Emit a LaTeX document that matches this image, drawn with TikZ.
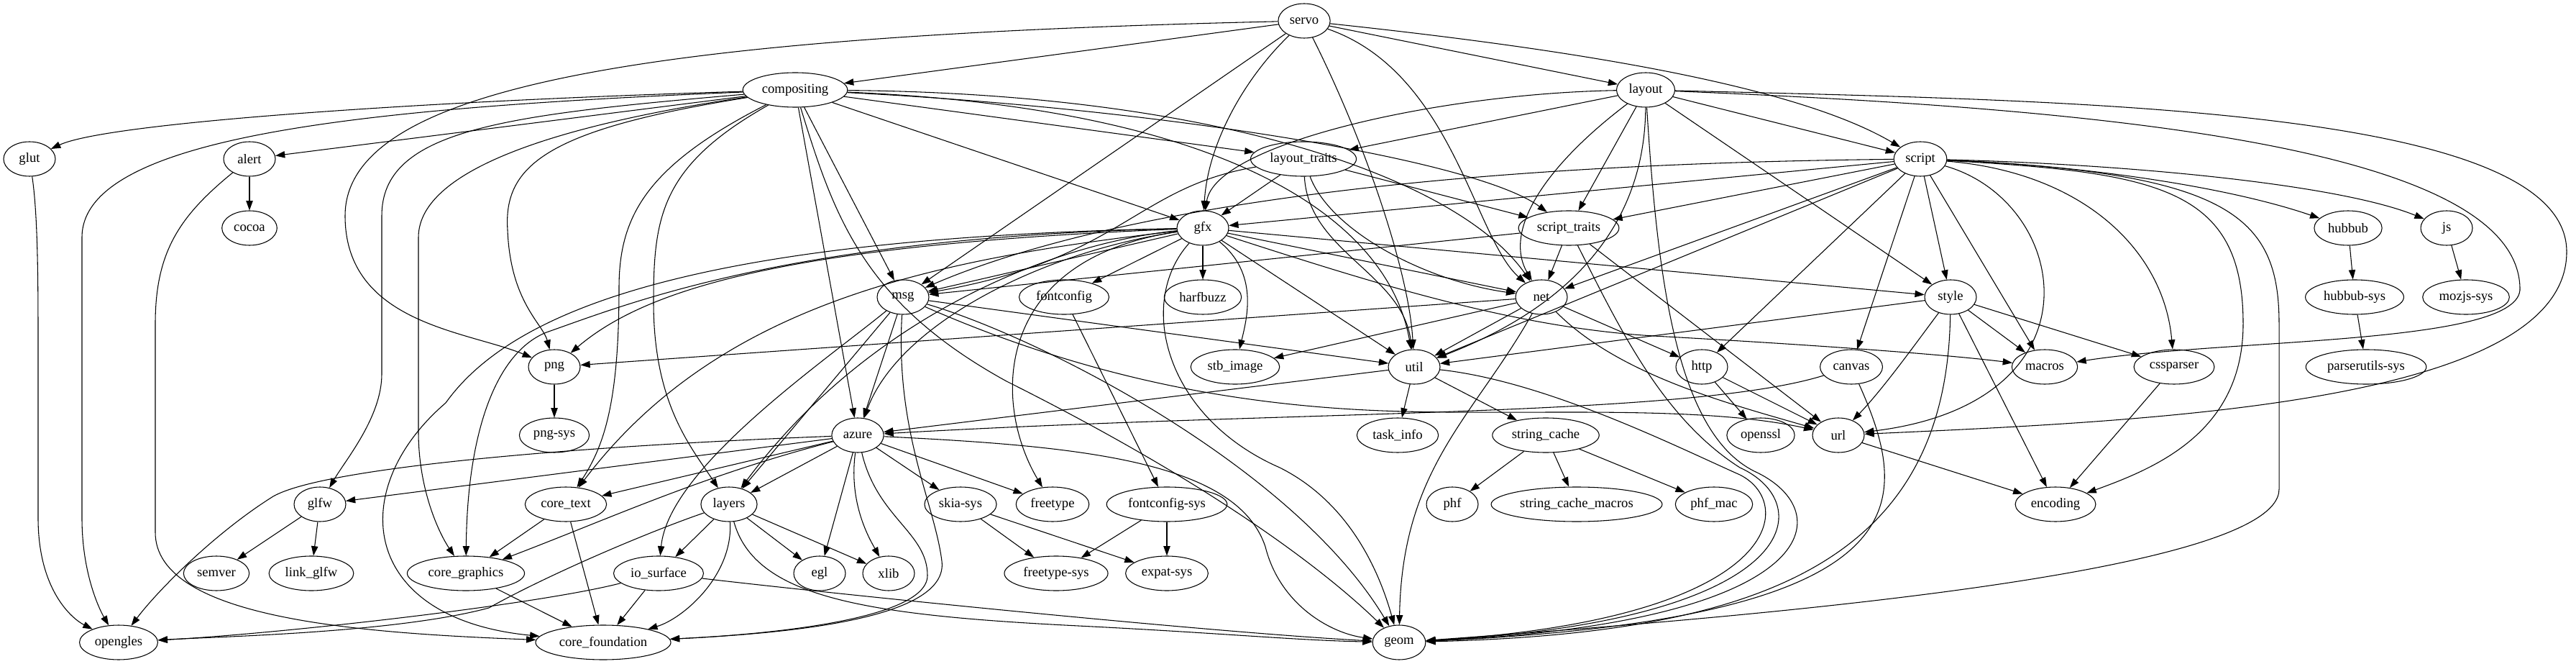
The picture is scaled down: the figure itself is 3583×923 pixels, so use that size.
\documentclass[tikz,border=0pt]{standalone}
\usepackage{fontspec}
\setmainfont{Liberation Serif}
\usepackage{tikz}
\usetikzlibrary{shapes.geometric,arrows.meta}
\tikzset{
  crate/.style={draw, ellipse, line width=0.8pt, minimum width=54pt, minimum height=36pt,
    inner xsep=4pt, inner ysep=0pt, font=\fontsize{14}{16}\selectfont},
  dep/.style={line width=0.8pt, -{Triangle[length=10pt,width=7pt]}}
}

\begin{document}
\begin{tikzpicture}[x=0.75pt,y=-0.75pt]
\useasboundingbox (0,0) rectangle (3583,923);

% crates, one row per rank
\node[crate] (servo) at (1814,29) {servo};
\node[crate] (compositing) at (1106,125) {compositing};
\node[crate] (layout) at (2289,125) {layout};
\node[crate] (glut) at (41,221) {glut};
\node[crate] (alert) at (347,221) {alert};
\node[crate] (layouttraits) at (1813,221) {layout\_traits};
\node[crate] (script) at (2671,221) {script};
\node[crate] (cocoa) at (347,317) {cocoa};
\node[crate] (gfx) at (1673,317) {gfx};
\node[crate] (scripttraits) at (2182,317) {script\_traits};
\node[crate] (hubbub) at (3266,317) {hubbub};
\node[crate] (js) at (3403,317) {js};
\node[crate] (msg) at (1256,413) {msg};
\node[crate] (fontconfig) at (1480,413) {fontconfig};
\node[crate] (harfbuzz) at (1673,413) {harfbuzz};
\node[crate] (net) at (2144,413) {net};
\node[crate] (style) at (2713,413) {style};
\node[crate] (hubbubsys) at (3275,413) {hubbub-sys};
\node[crate] (mozjssys) at (3430,413) {mozjs-sys};
\node[crate] (png) at (771,510) {png};
\node[crate] (stbimage) at (1718,510) {stb\_image};
\node[crate] (util) at (1967,510) {util};
\node[crate] (http) at (2367,510) {http};
\node[crate] (canvas) at (2575,510) {canvas};
\node[crate] (macros) at (2844,510) {macros};
\node[crate] (cssparser) at (3024,510) {cssparser};
\node[crate] (parserutilssys) at (3291,510) {parserutils-sys};
\node[crate] (pngsys) at (771,605) {png-sys};
\node[crate] (azure) at (1193,605) {azure};
\node[crate] (taskinfo) at (1944,605) {task\_info};
\node[crate] (stringcache) at (2150,605) {string\_cache};
\node[crate] (openssl) at (2449,605) {openssl};
\node[crate] (url) at (2557,605) {url};
\node[crate] (glfw) at (445,701) {glfw};
\node[crate] (coretext) at (787,701) {core\_text};
\node[crate] (layers) at (1014,701) {layers};
\node[crate] (skiasys) at (1336,701) {skia-sys};
\node[crate] (freetype) at (1464,701) {freetype};
\node[crate] (fontconfigsys) at (1623,701) {fontconfig-sys};
\node[crate] (phf) at (2020,701) {phf};
\node[crate] (stringcachemacros) at (2193,701) {string\_cache\_macros};
\node[crate] (phfmac) at (2384,701) {phf\_mac};
\node[crate] (encoding) at (2859,701) {encoding};
\node[crate] (semver) at (301,797) {semver};
\node[crate] (linkglfw) at (433,797) {link\_glfw};
\node[crate] (coregraphics) at (648,797) {core\_graphics};
\node[crate] (iosurface) at (916,797) {io\_surface};
\node[crate] (egl) at (1140,797) {egl};
\node[crate] (xlib) at (1236,797) {xlib};
\node[crate] (freetypesys) at (1469,797) {freetype-sys};
\node[crate] (expatsys) at (1623,797) {expat-sys};
\node[crate] (opengles) at (165,893) {opengles};
\node[crate] (corefoundation) at (839,893) {core\_foundation};
\node[crate] (geom) at (1946,893) {geom};

% servo
\draw[dep] (servo) -- (compositing);
\draw[dep] (servo) .. controls (900,50) and (480,120) .. (480,300) .. controls (480,450) and (650,460) .. (png);
\draw[dep] (servo) -- (msg);
\draw[dep] (servo) .. controls (1730,110) and (1680,200) .. (gfx);
\draw[dep] (servo) .. controls (1900,200) and (1960,380) .. (util);
\draw[dep] (servo) .. controls (2020,100) and (2050,330) .. (net);
\draw[dep] (servo) -- (layout);
\draw[dep] (servo) .. controls (2200,70) and (2500,120) .. (script);

% compositing
\draw[dep] (compositing) .. controls (600,140) and (150,170) .. (glut);
\draw[dep] (compositing) .. controls (500,150) and (114,190) .. (114,330) -- (114,720) .. controls (114,800) and (140,850) .. (opengles);
\draw[dep] (compositing) -- (alert);
\draw[dep] (compositing) .. controls (700,160) and (531,180) .. (531,300) -- (531,520) .. controls (531,580) and (480,640) .. (glfw);
\draw[dep] (compositing) .. controls (800,170) and (582,230) .. (582,330) -- (582,600) .. controls (582,680) and (610,740) .. (coregraphics);
\draw[dep] (compositing) .. controls (760,180) and (700,230) .. (706,320) .. controls (710,420) and (755,450) .. (png);
\draw[dep] (compositing) .. controls (900,230) and (861,300) .. (861,400) .. controls (861,560) and (840,620) .. (coretext);
\draw[dep] (compositing) .. controls (920,230) and (909,300) .. (909,420) .. controls (909,560) and (960,620) .. (layers);
\draw[dep] (compositing) -- (azure);
\draw[dep] (compositing) .. controls (1160,300) and (1200,420) .. (1400,530) .. controls (1700,680) and (1850,800) .. (geom);
\draw[dep] (compositing) -- (msg);
\draw[dep] (compositing) -- (layouttraits);
\draw[dep] (compositing) -- (gfx);
\draw[dep] (compositing) .. controls (1600,150) and (2050,220) .. (scripttraits);
\draw[dep] (compositing) .. controls (1700,130) and (2030,250) .. (net);
\draw[dep] (compositing) .. controls (1700,150) and (1930,300) .. (util);

% layout
\draw[dep] (layout) -- (layouttraits);
\draw[dep] (layout) .. controls (2000,130) and (1690,200) .. (gfx);
\draw[dep] (layout) .. controls (2150,230) and (2090,320) .. (net);
\draw[dep] (layout) -- (scripttraits);
\draw[dep] (layout) .. controls (2288,300) and (2200,420) .. (util);
\draw[dep] (layout) .. controls (2305,380) and (2330,600) .. (2440,655) .. controls (2560,710) and (2540,865) .. (geom);
\draw[dep] (layout) -- (style);
\draw[dep] (layout) -- (script);
\draw[dep] (layout) .. controls (2900,140) and (3570,150) .. (3570,350) .. controls (3570,560) and (3000,585) .. (url);
\draw[dep] (layout) .. controls (2900,150) and (3500,200) .. (3505,400) .. controls (3510,480) and (3100,470) .. (macros);

% layout_traits
\draw[dep] (layouttraits) -- (gfx);
\draw[dep] (layouttraits) .. controls (1580,260) and (1560,360) .. (msg);
\draw[dep] (layouttraits) -- (scripttraits);
\draw[dep] (layouttraits) .. controls (1850,320) and (1980,390) .. (net);
\draw[dep] (layouttraits) .. controls (1820,350) and (1950,380) .. (util);

% script
\draw[dep] (script) -- (gfx);
\draw[dep] (script) .. controls (1800,230) and (1450,330) .. (msg);
\draw[dep] (script) -- (scripttraits);
\draw[dep] (script) -- (net);
\draw[dep] (script) -- (util);
\draw[dep] (script) -- (http);
\draw[dep] (script) -- (canvas);
\draw[dep] (script) -- (style);
\draw[dep] (script) -- (macros);
\draw[dep] (script) .. controls (2880,280) and (2930,560) .. (url);
\draw[dep] (script) .. controls (3000,240) and (3120,260) .. (3120,450) .. controls (3120,600) and (3000,650) .. (encoding);
\draw[dep] (script) .. controls (3100,240) and (3170,300) .. (3170,450) -- (3170,680) .. controls (3170,800) and (2400,860) .. (geom);
\draw[dep] (script) .. controls (2900,240) and (3010,350) .. (cssparser);
\draw[dep] (script) .. controls (2900,230) and (3100,260) .. (hubbub);
\draw[dep] (script) .. controls (2950,228) and (3250,255) .. (js);

% gfx
\draw[dep] (gfx) -- (msg);
\draw[dep] (gfx) -- (fontconfig);
\draw[dep] (gfx) -- (harfbuzz);
\draw[dep] (gfx) -- (net);
\draw[dep] (gfx) -- (style);
\draw[dep] (gfx) .. controls (1100,340) and (900,400) .. (png);
\draw[dep] (gfx) .. controls (1750,380) and (1735,440) .. (stbimage);
\draw[dep] (gfx) -- (util);
\draw[dep] (gfx) .. controls (1450,350) and (1250,450) .. (azure);
\draw[dep] (gfx) .. controls (1100,330) and (880,420) .. (760,462) .. controls (690,490) and (650,600) .. (coregraphics);
\draw[dep] (gfx) .. controls (1300,360) and (1000,420) .. (coretext);
\draw[dep] (gfx) .. controls (1000,330) and (720,420) .. (620,560) .. controls (480,680) and (500,860) .. (corefoundation);
\draw[dep] (gfx) .. controls (1450,340) and (1200,450) .. (layers);
\draw[dep] (gfx) .. controls (1380,360) and (1380,560) .. (freetype);
\draw[dep] (gfx) .. controls (1580,420) and (1620,580) .. (1780,650) .. controls (1880,700) and (1920,800) .. (geom);
\draw[dep] (gfx) .. controls (1900,390) and (2100,455) .. (2300,467) .. controls (2500,478) and (2700,492) .. (macros);

% script_traits
\draw[dep] (scripttraits) -- (msg);
\draw[dep] (scripttraits) -- (net);
\draw[dep] (scripttraits) -- (url);
\draw[dep] (scripttraits) .. controls (2250,450) and (2310,580) .. (2420,650) .. controls (2530,700) and (2510,862) .. (geom);

% msg
\draw[dep] (msg) -- (azure);
\draw[dep] (msg) -- (layers);
\draw[dep] (msg) .. controls (1150,500) and (930,650) .. (iosurface);
\draw[dep] (msg) .. controls (1245,600) and (1300,700) .. (1310,780) .. controls (1320,860) and (1100,880) .. (corefoundation);
\draw[dep] (msg) .. controls (1450,470) and (1800,650) .. (geom);
\draw[dep] (msg) -- (util);
\draw[dep] (msg) .. controls (1500,520) and (1700,560) .. (1900,570) .. controls (2100,580) and (2350,560) .. (url);

% net
\draw[dep] (net) -- (png);
\draw[dep] (net) -- (stbimage);
\draw[dep] (net) -- (util);
\draw[dep] (net) -- (http);
\draw[dep] (net) .. controls (2250,520) and (2400,560) .. (url);
\draw[dep] (net) .. controls (2050,580) and (1950,650) .. (geom);

% style
\draw[dep] (style) -- (util);
\draw[dep] (style) -- (macros);
\draw[dep] (style) -- (cssparser);
\draw[dep] (style) -- (encoding);
\draw[dep] (style) .. controls (2670,470) and (2620,540) .. (url);
\draw[dep] (style) .. controls (2708,780) and (2450,880) .. (geom);

% util and the rest
\draw[dep] (util) -- (azure);
\draw[dep] (util) -- (taskinfo);
\draw[dep] (util) -- (stringcache);
\draw[dep] (util) .. controls (2150,530) and (2330,620) .. (2420,660) .. controls (2500,700) and (2480,860) .. (geom);
\draw[dep] (http) -- (openssl);
\draw[dep] (http) -- (url);
\draw[dep] (canvas) .. controls (2350,580) and (1800,570) .. (azure);
\draw[dep] (canvas) .. controls (2660,700) and (2680,860) .. (geom);
\draw[dep] (cssparser) -- (encoding);
\draw[dep] (url) -- (encoding);
\draw[dep] (png) -- (pngsys);
\draw[dep] (hubbub) -- (hubbubsys);
\draw[dep] (hubbubsys) -- (parserutilssys);
\draw[dep] (js) -- (mozjssys);
\draw[dep] (fontconfig) -- (fontconfigsys);
\draw[dep] (glut) .. controls (53,300) and (53,400) .. (53,480) -- (53,720) .. controls (53,820) and (100,860) .. (opengles);
\draw[dep] (alert) -- (cocoa);
\draw[dep] (alert) .. controls (250,300) and (216,350) .. (216,450) -- (216,740) .. controls (216,860) and (500,880) .. (corefoundation);
\draw[dep] (stringcache) -- (phf);
\draw[dep] (stringcache) -- (stringcachemacros);
\draw[dep] (stringcache) -- (phfmac);

% azure
\draw[dep] (azure) -- (glfw);
\draw[dep] (azure) .. controls (800,620) and (450,650) .. (380,690) .. controls (300,740) and (220,820) .. (opengles);
\draw[dep] (azure) -- (coretext);
\draw[dep] (azure) .. controls (980,660) and (850,720) .. (coregraphics);
\draw[dep] (azure) .. controls (1220,720) and (1290,740) .. (1290,800) .. controls (1290,870) and (1000,885) .. (corefoundation);
\draw[dep] (azure) -- (layers);
\draw[dep] (azure) -- (egl);
\draw[dep] (azure) .. controls (1180,700) and (1210,750) .. (xlib);
\draw[dep] (azure) -- (skiasys);
\draw[dep] (azure) -- (freetype);
\draw[dep] (azure) .. controls (1500,620) and (1720,640) .. (1760,760) .. controls (1780,840) and (1850,880) .. (geom);

% bottom ranks
\draw[dep] (layers) .. controls (900,740) and (760,800) .. (680,845) .. controls (550,880) and (300,885) .. (opengles);
\draw[dep] (layers) -- (iosurface);
\draw[dep] (layers) .. controls (1020,800) and (950,860) .. (corefoundation);
\draw[dep] (layers) .. controls (1050,830) and (1200,855) .. (1500,870) .. controls (1700,880) and (1800,890) .. (geom);
\draw[dep] (layers) -- (egl);
\draw[dep] (layers) -- (xlib);
\draw[dep] (iosurface) .. controls (750,840) and (400,880) .. (opengles);
\draw[dep] (iosurface) -- (corefoundation);
\draw[dep] (iosurface) .. controls (1200,830) and (1700,880) .. (geom);
\draw[dep] (coretext) -- (coregraphics);
\draw[dep] (coretext) -- (corefoundation);
\draw[dep] (coregraphics) -- (corefoundation);
\draw[dep] (glfw) -- (semver);
\draw[dep] (glfw) -- (linkglfw);
\draw[dep] (skiasys) -- (freetypesys);
\draw[dep] (skiasys) -- (expatsys);
\draw[dep] (fontconfigsys) -- (freetypesys);
\draw[dep] (fontconfigsys) -- (expatsys);

\end{tikzpicture}
\end{document}
